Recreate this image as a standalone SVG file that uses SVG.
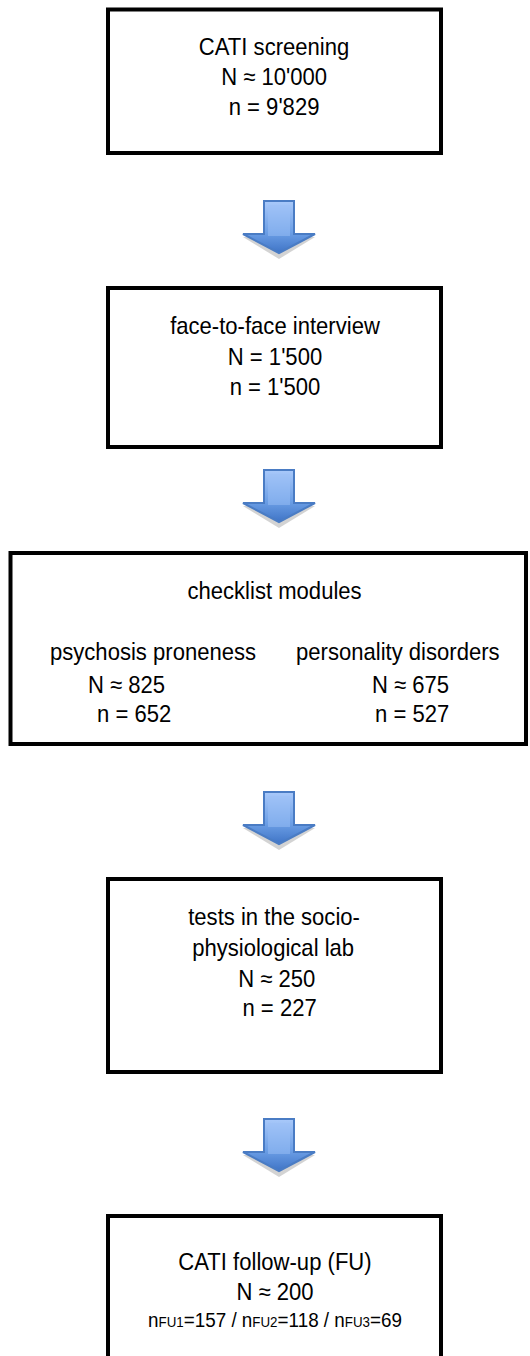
<svg xmlns="http://www.w3.org/2000/svg" width="530" height="1356" viewBox="0 0 530 1356">
<style>
.box{fill:#fff;stroke:#000;stroke-width:4}
text{font-family:"Liberation Sans",Arial,sans-serif;font-size:24px;fill:#000}
.c{text-anchor:middle}
.sm{font-size:20.5px}
.sub{font-size:14.5px}
</style>
<defs>
<linearGradient id="ag" x1="0" y1="0" x2="0" y2="1">
<stop offset="0" stop-color="#a9c9fa"/>
<stop offset="0.6" stop-color="#6c9fe6"/>
<stop offset="1" stop-color="#3f74c6"/>
</linearGradient>
<g id="arrow">
<path d="M-36,36 L0,58 L36,36 Z" fill="#c8c8c8" opacity="0.8"/>
<path d="M-15,0 L15,0 L15,33 L36,33 L0,52 L-36,33 L-15,33 Z" fill="url(#ag)" stroke="#4a7cc4" stroke-width="2" stroke-linejoin="miter"/>
<rect x="-11" y="4" width="22" height="31" fill="#9cc0f6" opacity="0.5"/>
</g>
</defs>
<rect width="530" height="1356" fill="#fff"/>
<g id="connectors">
<use href="#arrow" transform="translate(279,201)"/>
<use href="#arrow" transform="translate(279,470)"/>
<use href="#arrow" transform="translate(279,792)"/>
<use href="#arrow" transform="translate(279,1119)"/>
</g>
<g id="n1">
<rect class="box" x="108" y="9.5" width="333" height="143.5"/>
<g transform="translate(275 0) scale(0.92 1) translate(-275 0)">
<text class="c" x="274" y="55">CATI screening</text>
<text class="c" x="274" y="85">N ≈ 10'000</text>
<text class="c" x="274" y="115">n = 9'829</text>
</g>
</g>
<g id="n2">
<rect class="box" x="108" y="288" width="333" height="159"/>
<g transform="translate(275 0) scale(0.92 1) translate(-275 0)">
<text class="c" x="275" y="334">face-to-face interview</text>
<text class="c" x="275" y="365">N = 1'500</text>
<text class="c" x="275" y="395">n = 1'500</text>
</g>
</g>
<g id="n3">
<rect class="box" x="10.5" y="553" width="515.5" height="191"/>
<g transform="translate(275 0) scale(0.92 1) translate(-275 0)">
<text class="c" x="274.5" y="599">checklist modules</text>
</g>
<text transform="translate(50 660) scale(0.92 1)">psychosis proneness</text>
<text transform="translate(88 693) scale(0.92 1)">N ≈ 825</text>
<text transform="translate(97 722) scale(0.92 1)">n = 652</text>
<text transform="translate(296 660) scale(0.92 1)">personality disorders</text>
<text transform="translate(372 693) scale(0.92 1)">N ≈ 675</text>
<text transform="translate(375 722) scale(0.92 1)">n = 527</text>
</g>
<g id="n4">
<rect class="box" x="108" y="879" width="333" height="193"/>
<g transform="translate(275 0) scale(0.92 1) translate(-275 0)">
<text class="c" x="274" y="925">tests in the socio-</text>
<text class="c" x="273" y="956">physiological lab</text>
<text class="c" x="277" y="987">N ≈ 250</text>
<text class="c" x="280" y="1016">n = 227</text>
</g>
</g>
<g id="n5">
<rect class="box" x="108" y="1216" width="333" height="160"/>
<g transform="translate(275 0) scale(0.92 1) translate(-275 0)">
<text class="c" x="275" y="1270">CATI follow-up (FU)</text>
<text class="c" x="275" y="1300">N ≈ 200</text>
<text class="c sm" x="275" y="1327">n<tspan class="sub">FU1</tspan>=157 / n<tspan class="sub">FU2</tspan>=118 / n<tspan class="sub">FU3</tspan>=69</text>
</g>
</g>
</svg>
